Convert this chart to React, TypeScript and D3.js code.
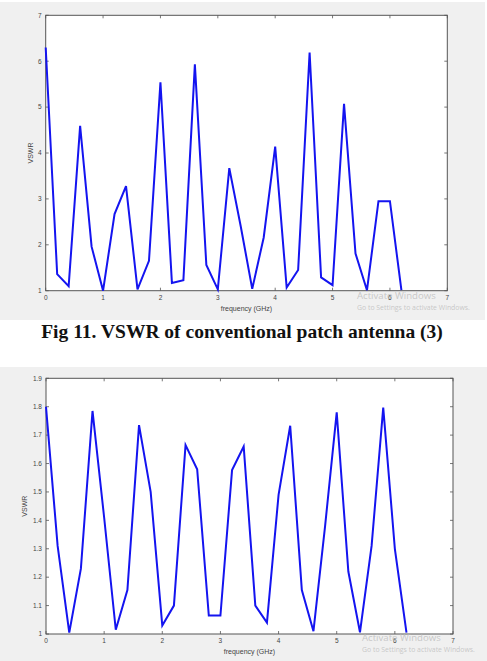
import React, { useEffect, useRef } from "react";
import * as d3 from "d3";

// frequency samples (GHz), shared by both sweeps
const freqGHz = [
  0, 0.2, 0.4, 0.6, 0.8, 1.0, 1.2, 1.4, 1.6, 1.8, 2.0, 2.2, 2.4, 2.6, 2.8, 3.0,
  3.2, 3.4, 3.6, 3.8, 4.0, 4.2, 4.4, 4.6, 4.8, 5.0, 5.2, 5.4, 5.6, 5.8, 6.0, 6.2,
];

// conventional patch antenna (3)
const vswrConventional = [
  6.3, 1.36, 1.1, 4.59, 1.96, 1.0, 2.67, 3.28, 1.03, 1.65, 5.54, 1.17, 1.23, 5.93,
  1.56, 1.03, 3.67, 2.4, 1.04, 2.16, 4.14, 1.07, 1.45, 6.19, 1.29, 1.12, 5.07, 1.81,
  1.01, 2.95, 2.95, 1.01,
];

// second sweep
const vswrSecond = [
  1.8, 1.31, 1.005, 1.23, 1.785, 1.41, 1.015, 1.155, 1.735, 1.5, 1.03, 1.1, 1.665,
  1.58, 1.065, 1.065, 1.577, 1.66, 1.1, 1.04, 1.49, 1.733, 1.155, 1.01, 1.38, 1.78,
  1.22, 1.006, 1.31, 1.797, 1.3, 1.005,
];

const xTicks = [0, 1, 2, 3, 4, 5, 6, 7];
const yTicksTop = [1, 2, 3, 4, 5, 6, 7];
const yTicksBottom = [1, 1.1, 1.2, 1.3, 1.4, 1.5, 1.6, 1.7, 1.8, 1.9];
const yLabelsBottom = ["1", "1.1", "1.2", "1.3", "1.4", "1.5", "1.6", "1.7", "1.8", "1.9"];

const W = 487;
const H = 661;
const FIG_BG = "#f0f0f0";
const LINE = "#1414f0";
const AXIS = "#555";
const SANS = "'Liberation Sans', Arial, sans-serif";

type Panel = {
  bg: [number, number, number, number];
  box: { left: number; right: number; top: number; bottom: number };
  yDomain: [number, number];
  yTicks: number[];
  yLabels: string[];
  values: number[];
  yLabelX: number;
  watermarkY: number;
  watermarkX: number;
};

function drawPanel(svg: d3.Selection<SVGSVGElement, unknown, null, undefined>, p: Panel) {
  const g = svg.append("g");
  const { left, right, top, bottom } = p.box;

  g.append("rect")
    .attr("x", p.bg[0]).attr("y", p.bg[1])
    .attr("width", p.bg[2]).attr("height", p.bg[3])
    .attr("fill", FIG_BG);

  g.append("rect")
    .attr("x", left).attr("y", top)
    .attr("width", right - left).attr("height", bottom - top)
    .attr("fill", "#fff");

  const x = d3.scaleLinear().domain([0, 7]).range([left, right]);
  const y = d3.scaleLinear().domain(p.yDomain).range([bottom, top]);

  const tl = 3;
  // ticks on all four sides, pointing inwards
  xTicks.forEach((t) => {
    g.append("line").attr("x1", x(t)).attr("x2", x(t)).attr("y1", bottom).attr("y2", bottom - tl)
      .attr("stroke", AXIS).attr("stroke-width", 0.8);
    g.append("line").attr("x1", x(t)).attr("x2", x(t)).attr("y1", top).attr("y2", top + tl)
      .attr("stroke", AXIS).attr("stroke-width", 0.8);
    g.append("text").attr("x", x(t)).attr("y", bottom + 9)
      .attr("text-anchor", "middle").attr("font-family", SANS).attr("font-size", 6.5)
      .attr("fill", "#444").text(String(t));
  });
  p.yTicks.forEach((t, i) => {
    g.append("line").attr("x1", left).attr("x2", left + tl).attr("y1", y(t)).attr("y2", y(t))
      .attr("stroke", AXIS).attr("stroke-width", 0.8);
    g.append("line").attr("x1", right).attr("x2", right - tl).attr("y1", y(t)).attr("y2", y(t))
      .attr("stroke", AXIS).attr("stroke-width", 0.8);
    g.append("text").attr("x", left - 4).attr("y", y(t) + 2.3)
      .attr("text-anchor", "end").attr("font-family", SANS).attr("font-size", 6.5)
      .attr("fill", "#444").text(p.yLabels[i]);
  });

  g.append("rect")
    .attr("x", left).attr("y", top)
    .attr("width", right - left).attr("height", bottom - top)
    .attr("fill", "none").attr("stroke", AXIS).attr("stroke-width", 1);

  const line = d3.line<number>()
    .x((_, i) => x(freqGHz[i]))
    .y((d) => y(d));

  g.append("path")
    .datum(p.values)
    .attr("d", line)
    .attr("fill", "none")
    .attr("stroke", LINE)
    .attr("stroke-width", 2)
    .attr("stroke-linejoin", "miter");

  g.append("text")
    .attr("x", (left + right) / 2).attr("y", bottom + 20)
    .attr("text-anchor", "middle").attr("font-family", SANS).attr("font-size", 7)
    .attr("fill", "#444").text("frequency (GHz)");

  g.append("text")
    .attr("transform", `translate(${p.yLabelX},${(top + bottom) / 2}) rotate(-90)`)
    .attr("text-anchor", "middle").attr("font-family", SANS).attr("font-size", 7)
    .attr("fill", "#444").text("VSWR");

  // desktop activation notice overlaid on the screenshot
  g.append("text")
    .attr("x", p.watermarkX).attr("y", p.watermarkY)
    .attr("font-family", "'Open Sans', sans-serif").attr("font-size", 9.6)
    .attr("fill", "#bcbcbc").attr("fill-opacity", 0.8).text("Activate Windows");
  g.append("text")
    .attr("x", p.watermarkX).attr("y", p.watermarkY + 11)
    .attr("font-family", "'Open Sans', sans-serif").attr("font-size", 6.9)
    .attr("fill", "#bcbcbc").attr("fill-opacity", 0.8).text("Go to Settings to activate Windows.");
}

export default function App() {
  const svgRef = useRef<SVGSVGElement>(null);

  useEffect(() => {
    const svg = d3.select(svgRef.current as SVGSVGElement);
    svg.selectAll("*").remove();

    svg.append("rect").attr("width", W).attr("height", H).attr("fill", "#fff");

    drawPanel(svg, {
      bg: [0, 2, 485, 318],
      box: { left: 45.7, right: 447.3, top: 15.3, bottom: 290.7 },
      yDomain: [1, 7],
      yTicks: yTicksTop,
      yLabels: yTicksTop.map(String),
      values: vswrConventional,
      yLabelX: 33,
      watermarkX: 357,
      watermarkY: 298.5,
    });

    svg.append("text")
      .attr("x", 242).attr("y", 338)
      .attr("text-anchor", "middle")
      .attr("font-family", "'Liberation Serif', 'Times New Roman', serif")
      .attr("font-weight", "bold").attr("font-size", 19.5)
      .attr("fill", "#111")
      .text("Fig 11. VSWR of conventional patch antenna (3)");

    drawPanel(svg, {
      bg: [0, 367, 487, 294],
      box: { left: 46, right: 453, top: 378.3, bottom: 634 },
      yDomain: [1, 1.9],
      yTicks: yTicksBottom,
      yLabels: yLabelsBottom,
      values: vswrSecond,
      yLabelX: 27,
      watermarkX: 362,
      watermarkY: 641,
    });
  }, []);

  return (
    <svg
      ref={svgRef}
      width={W}
      height={H}
      style={{ position: "absolute", left: 0, top: 0, display: "block" }}
    />
  );
}
